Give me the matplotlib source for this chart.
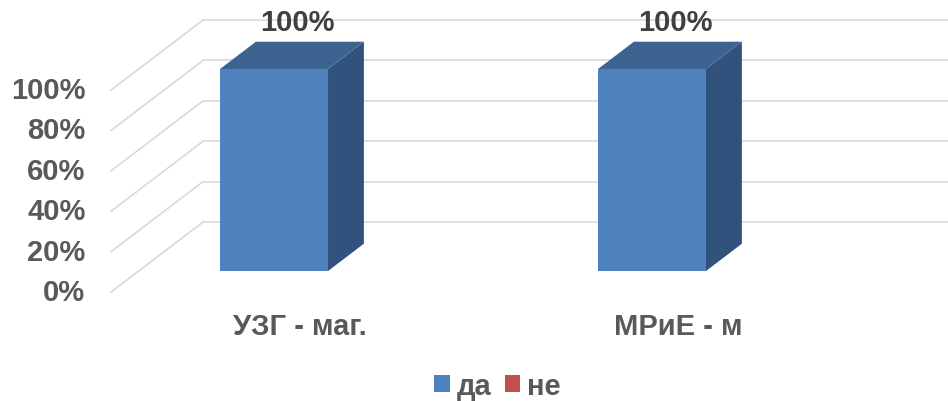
import matplotlib
matplotlib.use("Agg")
import matplotlib.pyplot as plt
from matplotlib.patches import Polygon, Patch

plt.rcParams["font.family"] = ["Liberation Sans", "DejaVu Sans"]

# ── data ─────────────────────────────────────────────────────────────────────
categories = ["УЗГ - маг.", "МРиЕ - м"]
da_values = [100, 100]
ne_values = [0, 0]
series_names = ["да", "не"]
y_ticks = [0, 20, 40, 60, 80, 100]

# ── style / oblique projection ───────────────────────────────────────────────
C_FRONT, C_TOP, C_SIDE = "#4f81bd", "#3d6491", "#31527c"
C_RED = "#c0504d"
GRID = "#d9d9d9"
TXT = "#595959"
FS = 21

DX, DY = 0.2434, 34.65      # full depth offset in data units (x: category, y: %)
X_LEFT = -0.358             # left edge of walls (front)
BAR_W = 0.2857
BAR_D0, BAR_D1 = 0.30, 0.69  # bar depth range (fraction of wall depth)


def proj(x, v, d):
    return (x + d * DX, v + d * DY)


fig = plt.figure(figsize=(9.48, 4.02), dpi=100)
ax = fig.add_axes([0, 0, 1, 1])
ax.set_xlim(-0.6519, 1.8561)
ax.set_ylim(-53.96, 145.05)
ax.axis("off")

# gridlines: diagonal on side wall + horizontal on back wall
for v in y_ticks:
    x0, y0 = proj(X_LEFT, v, 0)
    x1, y1 = proj(X_LEFT, v, 1)
    ax.plot([x0, x1], [y0, y1], color=GRID, lw=1.2, zorder=1)
    ax.plot([x1, 3], [y1, y1], color=GRID, lw=1.2, zorder=1)
    ax.text(X_LEFT - 0.068, v, f"{v}%", ha="right", va="center",
            fontsize=FS, fontweight="bold", color=TXT)

# bars
for i, (cat, val) in enumerate(zip(categories, da_values)):
    xl, xr = i - BAR_W / 2, i + BAR_W / 2
    front = [proj(xl, 0, BAR_D0), proj(xr, 0, BAR_D0),
             proj(xr, val, BAR_D0), proj(xl, val, BAR_D0)]
    top = [proj(xl, val, BAR_D0), proj(xr, val, BAR_D0),
           proj(xr, val, BAR_D1), proj(xl, val, BAR_D1)]
    side = [proj(xr, 0, BAR_D0), proj(xr, 0, BAR_D1),
            proj(xr, val, BAR_D1), proj(xr, val, BAR_D0)]
    ax.add_patch(Polygon(side, closed=True, fc=C_SIDE, ec="none", zorder=3))
    ax.add_patch(Polygon(top, closed=True, fc=C_TOP, ec="none", zorder=3))
    ax.add_patch(Polygon(front, closed=True, fc=C_FRONT, ec="none", zorder=4))

    cx, cy = proj(i, val, (BAR_D0 + BAR_D1) / 2)
    ax.annotate(f"{val}%", (cx, cy), xytext=(4, 24), textcoords="offset points",
                ha="center", va="center", fontsize=FS, fontweight="bold",
                color="#404040", zorder=5)

    lx, _ = proj(i, 0, 0.5)
    ax.text(lx + 0.02, -17, cat, ha="center", va="center",
            fontsize=FS, fontweight="bold", color=TXT)

handles = [Patch(fc=C_FRONT, ec="none"), Patch(fc=C_RED, ec="none")]
fig.legend(handles, series_names, loc="center", bbox_to_anchor=(0.525, 0.037),
           ncol=2, frameon=False, handlelength=0.52, handleheight=0.52,
           handletextpad=0.25, columnspacing=0.45, labelcolor=TXT,
           prop={"weight": "bold", "size": FS})

fig.savefig("out.png", dpi=100, facecolor="white")
